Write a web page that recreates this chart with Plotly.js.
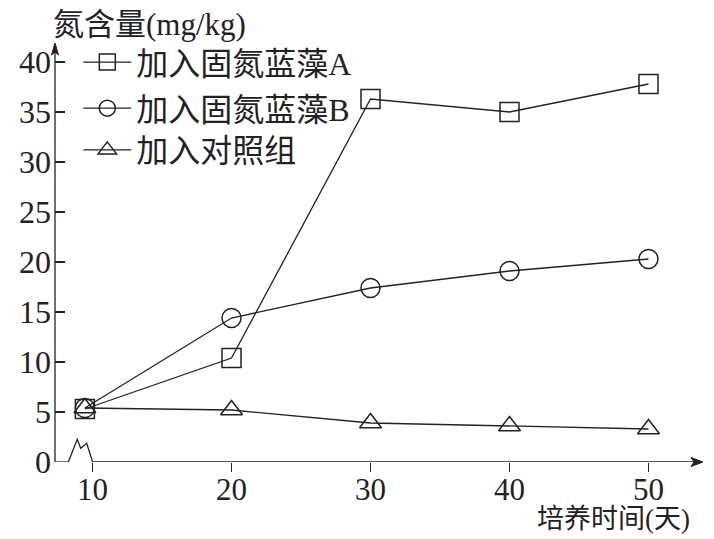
<!DOCTYPE html>
<html><head><meta charset="utf-8">
<script src="https://cdn.plot.ly/plotly-3.0.1.min.js"></script>
<style>html,body{margin:0;padding:0;background:#fff;}</style>
</head><body>
<div id="chart" style="width:714px;height:539px;"></div>
<script>
const days = [9.45, 20, 30, 40, 50];
const seriesNames = ['加入固氮蓝藻A', '加入固氮蓝藻B', '加入对照组'];
const valuesA = [5.3, 10.4, 36.3, 35.0, 37.8];
const valuesB = [5.4, 14.4, 17.4, 19.1, 20.3];
const valuesCtrl = [5.4, 5.2, 3.9, 3.6, 3.3];
const xTicks = [10, 20, 30, 40, 50];
const yTicks = [0, 5, 10, 15, 20, 25, 30, 35, 40];
const yTitle = '氮含量(mg/kg)';
const xTitle = '培养时间(天)';

const ink = '#222';
const serif = 'Liberation Serif, Noto Sans CJK SC, serif';
const symbols = ['square-open', 'circle-open', 'triangle-up-open'];
const allValues = [valuesA, valuesB, valuesCtrl];
const legendIds = ['legend', 'legend2', 'legend3'];

const traces = allValues.map((vals, i) => ({
  x: days, y: vals, name: seriesNames[i], type: 'scatter', mode: 'lines+markers',
  legend: legendIds[i],
  line: {color: ink, width: 1.3},
  marker: {symbol: symbols[i], size: 19, color: ink, line: {color: ink, width: 1.5}},
  cliponaxis: false
}));

const xr = [7.3, 53.85];
const legendFont = {family: serif, size: 32, color: ink};
function mkLegend(y) {
  return {x: 0.036, y: y, xanchor: 'left', yanchor: 'middle', bgcolor: 'rgba(0,0,0,0)',
          font: legendFont, itemwidth: 48, borderwidth: 0};
}

const layout = {
  width: 714, height: 539,
  margin: {l: 55, r: 12, t: 45, b: 77},
  paper_bgcolor: '#fff', plot_bgcolor: '#fff',
  showlegend: true,
  legend: mkLegend(0.9585),
  legend2: mkLegend(0.848),
  legend3: mkLegend(0.748),
  xaxis: {
    range: xr, showline: false, zeroline: false, showgrid: false,
    tickmode: 'array', tickvals: xTicks, ticktext: xTicks.map(String),
    ticks: 'outside', ticklen: 9, tickwidth: 1.3, tickcolor: ink,
    ticklabelstandoff: -9,
    tickfont: {family: serif, size: 31, color: ink}
  },
  yaxis: {
    range: [0, 41.7], showline: false, zeroline: false, showgrid: false,
    tickmode: 'array', tickvals: yTicks, ticktext: yTicks.map(String),
    ticks: 'inside', ticklen: 10, tickwidth: 1.3, tickcolor: ink,
    ticklabelstandoff: 3,
    tickfont: {family: serif, size: 32, color: ink}
  },
  shapes: [
    {type: 'line', xref: 'paper', yref: 'paper', x0: 0, x1: 0, y0: 0, y1: 0.985, line: {color: ink, width: 1.3}},
    {type: 'line', xref: 'x', yref: 'y', x0: xr[0], x1: 8.26, y0: 0, y1: 0, line: {color: ink, width: 1.3}},
    {type: 'path', xref: 'x', yref: 'y', path: 'M8.26,0 L8.9,2.27 L9.15,1.37 L9.58,1.87 L10.01,0', line: {color: ink, width: 1.3}},
    {type: 'line', xref: 'x', yref: 'y', x0: 10.01, x1: 53.6, y0: 0, y1: 0, line: {color: ink, width: 1.3}},
    {type: 'path', xref: 'paper', yref: 'paper', xsizemode: 'pixel', ysizemode: 'pixel', xanchor: 1, yanchor: 0,
     path: 'M1,0 L-11,4.5 L-8,0 L-11,-4.5 Z', fillcolor: ink, line: {color: ink, width: 1}},
    {type: 'path', xref: 'paper', yref: 'paper', xsizemode: 'pixel', ysizemode: 'pixel', xanchor: 0, yanchor: 1,
     path: 'M0,2 L-3.5,-10 L0,-7 L3.5,-10 Z', fillcolor: ink, line: {color: ink, width: 1}}
  ],
  annotations: [
    {text: yTitle, xref: 'paper', yref: 'paper', x: -0.006, y: 1.048, xanchor: 'left', yanchor: 'middle',
     showarrow: false, font: {family: serif, size: 31, color: ink}},
    {text: xTitle, xref: 'paper', yref: 'paper', x: 0.742, y: 0, yshift: -57, xanchor: 'left', yanchor: 'middle',
     showarrow: false, font: {family: serif, size: 27, color: ink}}
  ]
};

Plotly.newPlot('chart', traces, layout, {displayModeBar: false, staticPlot: true});
</script>
</body></html>
